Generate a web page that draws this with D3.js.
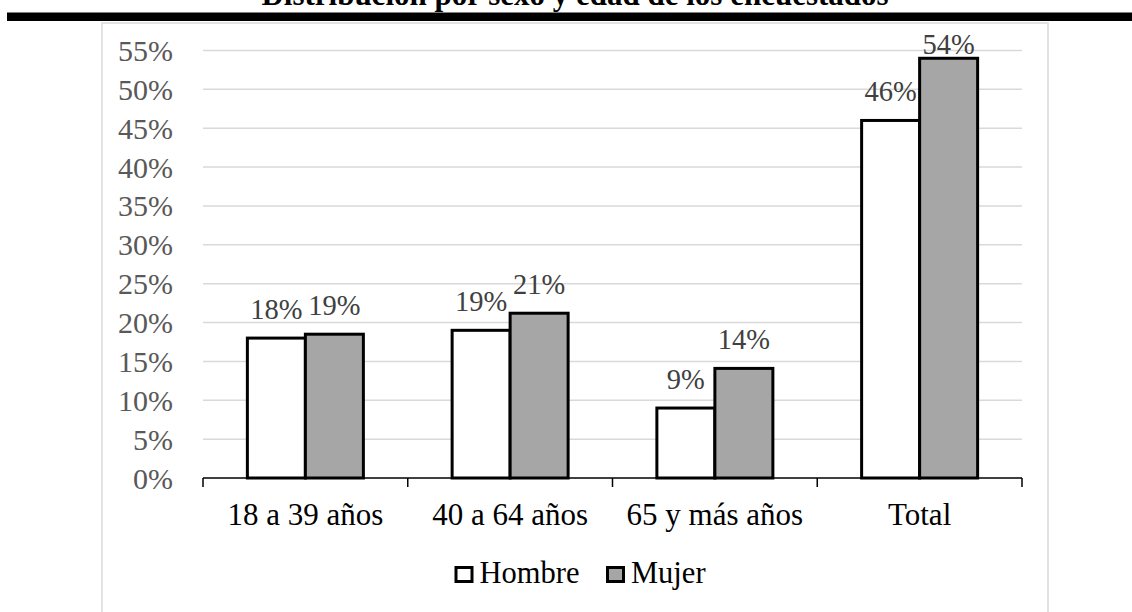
<!DOCTYPE html>
<html><head><meta charset="utf-8">
<script src="https://cdn.jsdelivr.net/npm/d3@7"></script>
<style>body{margin:0;background:#fff}svg{display:block}text{font-family:"Liberation Serif","Times New Roman",serif}</style>
</head><body><svg id="c" width="1132" height="612"></svg>
<script>
const title = "Distribución por sexo y edad de los encuestados";
const categories = ["18 a 39 años","40 a 64 años","65 y más años","Total"];
const seriesNames = ["Hombre","Mujer"];
const hombre = [18, 19, 9, 46];
const mujer = [18.5, 21.2, 14.1, 54];
const labelsH = ["18%","19%","9%","46%"];
const labelsM = ["19%","21%","14%","54%"];
const yTicks = [0,5,10,15,20,25,30,35,40,45,50,55];
const fills = ["#ffffff","#a6a6a6"];

const svg = d3.select("#c");
svg.append("rect").attr("x",102).attr("y",23).attr("width",946).attr("height",620)
  .attr("fill","none").attr("stroke","#d9d9d9").attr("stroke-width",1.5);
svg.append("rect").attr("x",7).attr("y",12.5).attr("width",1125).attr("height",8.5).attr("fill","#000");
svg.append("text").attr("x",575).attr("y",5).attr("text-anchor","middle")
  .attr("font-weight","bold").attr("font-size",31).attr("fill","#000").text(title);

const x = d3.scaleBand().domain(categories).range([203,1022]).paddingInner(0).paddingOuter(0);
const xs = d3.scaleBand().domain(seriesNames).range([0,x.bandwidth()]).paddingInner(0).paddingOuter(0.765);
const y = d3.scaleLinear().domain([0,55]).range([478,50.5]);

svg.append("g").selectAll("line").data(yTicks.filter(d=>d>0)).join("line")
  .attr("x1",203).attr("x2",1022).attr("y1",d=>y(d)).attr("y2",d=>y(d))
  .attr("stroke","#d9d9d9").attr("stroke-width",1.5);

svg.append("g").selectAll("text").data(yTicks).join("text")
  .attr("x",173).attr("y",d=>y(d)).attr("dy","0.35em").attr("text-anchor","end")
  .attr("font-size",30).attr("fill","#595959").text(d=>d+"%");

const data = categories.map((c,i)=>({c, vals:[{s:"Hombre",v:hombre[i],l:labelsH[i]},{s:"Mujer",v:mujer[i],l:labelsM[i]}]}));
const g = svg.append("g").selectAll("g").data(data).join("g").attr("transform",d=>`translate(${x(d.c)},0)`);
g.selectAll("rect").data(d=>d.vals).join("rect")
  .attr("x",d=>xs(d.s)).attr("width",xs.bandwidth()).attr("y",d=>y(d.v)).attr("height",d=>y(0)-y(d.v))
  .attr("fill",(d,i)=>fills[i]).attr("stroke","#000").attr("stroke-width",3);
g.selectAll("text").data(d=>d.vals).join("text")
  .attr("x",d=>xs(d.s)+xs.bandwidth()/2).attr("y",d=>Math.max(y(d.v)-19,53.5))
  .attr("text-anchor","middle").attr("font-size",28.5).attr("fill","#404040").text(d=>d.l);

const xa = svg.append("g");
xa.append("line").attr("x1",203).attr("x2",1022).attr("y1",y(0)).attr("y2",y(0)).attr("stroke","#000").attr("stroke-width",1.5);
const bounds = categories.map(c=>x(c)).concat([x.range()[1]]);
xa.selectAll("line.t").data(bounds).join("line").attr("class","t")
  .attr("x1",d=>d).attr("x2",d=>d).attr("y1",y(0)).attr("y2",y(0)+9).attr("stroke","#000").attr("stroke-width",1.5);
xa.selectAll("text").data(categories).join("text")
  .attr("x",d=>x(d)+x.bandwidth()/2).attr("y",525).attr("text-anchor","middle")
  .attr("font-size",31).attr("fill","#000").text(d=>d);

const leg = svg.append("g");
const legX = [456, 607.5];
seriesNames.forEach((s,i)=>{
  leg.append("rect").attr("x",legX[i]).attr("y",567.5).attr("width",16).attr("height",14)
    .attr("fill",fills[i]).attr("stroke","#000").attr("stroke-width",3);
  leg.append("text").attr("x",legX[i]+23.5).attr("y",582.5).attr("font-size",30.5).attr("fill","#000").text(s);
});
</script></body></html>
